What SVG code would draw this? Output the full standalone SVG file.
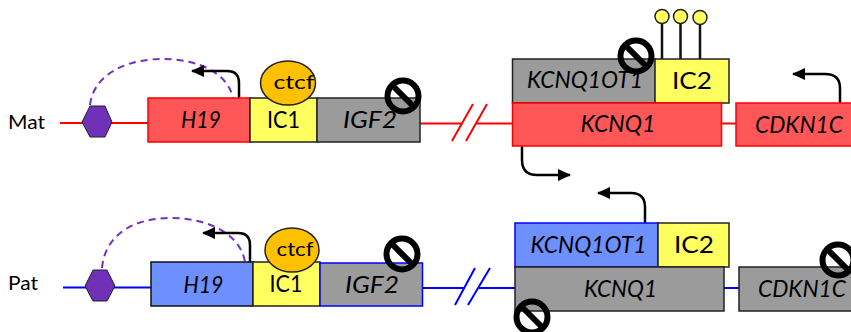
<svg xmlns="http://www.w3.org/2000/svg" width="851" height="332" viewBox="0 0 851 332">
<style>
text{font-family:"Lato","Liberation Sans",sans-serif;fill:#000;text-anchor:middle}
.g{font-size:23px;font-style:italic}
.ic{font-size:23px}
.ctf{font-size:20px}
.lab{font-size:20px;text-anchor:start}
.red{fill:#ff5757;stroke:#ff0000;stroke-width:1.5}
.blue{fill:#6e90ff;stroke:#0000ff;stroke-width:1.5}
.gray{fill:#9b9b9b;stroke:#222;stroke-width:1.5}
.yel{fill:#ffff60;stroke:#222;stroke-width:1.5}
.hex{fill:#7030b8;stroke:#222;stroke-width:1}
.ct{fill:#ffc000;stroke:#222;stroke-width:1.5}
.lr{stroke:#f00;stroke-width:2;fill:none}
.lb{stroke:#00f;stroke-width:2;fill:none}
.dash{stroke:#7030c0;stroke-width:2;stroke-dasharray:7 5;fill:none}
.arr{stroke:#000;stroke-width:2.5;fill:none;marker-end:url(#ah)}
.stem{stroke:#111;stroke-width:2.5;fill:none}
.lol{fill:#ffff60;stroke:#222;stroke-width:1.5}
.no circle{fill:none;stroke:#000;stroke-width:6}
.no line{stroke:#000;stroke-width:6}
</style>
<defs>
<marker id="ah" markerUnits="userSpaceOnUse" markerWidth="14" markerHeight="14" refX="12" refY="6" orient="auto"><path d="M0 0L13 6L0 12Z" fill="#000"/></marker>
<g id="nosym" class="no"><circle r="15.5"/><line x1="-11" y1="-11" x2="11" y2="11"/></g>
</defs>
<g id="connectors">
<path class="lr" d="M60 123H148M420 123.500H461M476 123.500H512M721 123.500H736M452 141L473 104M466 141L487 104"/>
<path class="lb" d="M63 287.500H151M422 288H464M479 288H515M724 288H739M455 305L475 268M468 305L490 268"/>
<path class="dash" d="M90 105C94 72 130 59 162 59C200 59 228 74 233 98"/>
<path class="dash" d="M102 268C105 234 135 218 170 218C205 218 240 232 245 262"/>
<path class="arr" d="M239 98V83Q239 71 227 71H192"/>
<path class="arr" d="M250 262V245Q250 233 238 233H203"/>
<path class="arr" d="M522 146V160Q522 175 537 175H570"/>
<path class="arr" d="M840 103V88Q840 74 825 74H793"/>
<path class="arr" d="M645 223V207Q645 193 631 193H598"/>
<path class="stem" d="M662 59V22M680.500 59V22M700 59V23"/>
</g>
<g id="mat-label"><text class="lab" x="8" y="129" textLength="37" lengthAdjust="spacingAndGlyphs">Mat</text></g>
<g id="pat-label"><text class="lab" x="8" y="290" textLength="30" lengthAdjust="spacingAndGlyphs">Pat</text></g>
<g id="mat-hex"><polygon class="hex" points="82,122 90,106 105,106 112,122 105,137 90,137"/></g>
<g id="pat-hex"><polygon class="hex" points="85,286 93,270 107,270 115,286 107,301 93,301"/></g>
<g id="mat-h19"><rect class="red" x="148" y="98" width="102" height="44"/><text class="g" x="201" y="128" textLength="40" lengthAdjust="spacingAndGlyphs">H19</text></g>
<g id="mat-ic1"><rect class="yel" x="250" y="98" width="67" height="44"/><text class="ic" x="283.500" y="128" textLength="33" lengthAdjust="spacingAndGlyphs">IC1</text></g>
<g id="mat-igf2"><rect class="gray" x="317" y="98" width="103" height="44"/><text class="g" x="370" y="128" textLength="54" lengthAdjust="spacingAndGlyphs">IGF2</text></g>
<g id="mat-ctcf"><ellipse class="ct" cx="288" cy="83" rx="27.500" ry="22"/><text class="ctf" x="294" y="89" textLength="41" lengthAdjust="spacingAndGlyphs">ctcf</text></g>
<g id="pat-h19"><rect x="151" y="262" width="102" height="44" fill="#6e90ff" stroke="#111" stroke-width="1.5"/><text class="g" x="203.500" y="293" textLength="40" lengthAdjust="spacingAndGlyphs">H19</text></g>
<g id="pat-ic1"><rect class="yel" x="253" y="262" width="67" height="44"/><text class="ic" x="286" y="292" textLength="33" lengthAdjust="spacingAndGlyphs">IC1</text></g>
<g id="pat-igf2"><rect x="320" y="263" width="102.500" height="43" fill="#9b9b9b" stroke="#00f" stroke-width="1.5"/><text class="g" x="372" y="293" textLength="54" lengthAdjust="spacingAndGlyphs">IGF2</text></g>
<g id="pat-ctcf"><ellipse class="ct" cx="292" cy="250" rx="27" ry="22"/><text class="ctf" x="295" y="256" textLength="37" lengthAdjust="spacingAndGlyphs">ctcf</text></g>
<g id="mat-kcnq1ot1"><rect class="gray" x="512.500" y="59" width="143" height="44"/><text class="g" x="585" y="88" textLength="116" lengthAdjust="spacingAndGlyphs">KCNQ1OT1</text></g>
<g id="mat-ic2"><rect class="yel" x="655" y="59" width="74" height="44"/><text class="ic" x="692" y="89" textLength="40" lengthAdjust="spacingAndGlyphs">IC2</text></g>
<g id="mat-kcnq1"><rect class="red" x="512.500" y="103" width="209" height="43"/><text class="g" x="618" y="132" textLength="75" lengthAdjust="spacingAndGlyphs">KCNQ1</text></g>
<g id="mat-cdkn1c"><rect class="red" x="736" y="103" width="120" height="43"/><text class="g" x="799" y="133" textLength="88" lengthAdjust="spacingAndGlyphs">CDKN1C</text></g>
<g id="lollipops"><circle class="lol" cx="662" cy="16.500" r="7"/><circle class="lol" cx="680.500" cy="16.500" r="7"/><circle class="lol" cx="700" cy="17.500" r="7"/></g>
<g id="pat-kcnq1ot1"><rect class="blue" x="515" y="223" width="143" height="44"/><text class="g" x="588.500" y="253" textLength="116" lengthAdjust="spacingAndGlyphs">KCNQ1OT1</text></g>
<g id="pat-ic2"><rect class="yel" x="658" y="223" width="71" height="44"/><text class="ic" x="694" y="253" textLength="40" lengthAdjust="spacingAndGlyphs">IC2</text></g>
<g id="pat-kcnq1"><rect class="gray" x="515" y="267" width="209" height="44"/><text class="g" x="620.500" y="297" textLength="73" lengthAdjust="spacingAndGlyphs">KCNQ1</text></g>
<g id="pat-cdkn1c"><rect class="gray" x="739" y="267" width="120" height="44"/><text class="g" x="802" y="297" textLength="88" lengthAdjust="spacingAndGlyphs">CDKN1C</text></g>
<g id="no-symbols">
<use href="#nosym" x="403" y="96"/>
<use href="#nosym" x="636" y="56"/>
<use href="#nosym" x="402" y="254"/>
<use href="#nosym" x="532" y="317"/>
<use href="#nosym" x="838" y="260"/>
</g>
</svg>
